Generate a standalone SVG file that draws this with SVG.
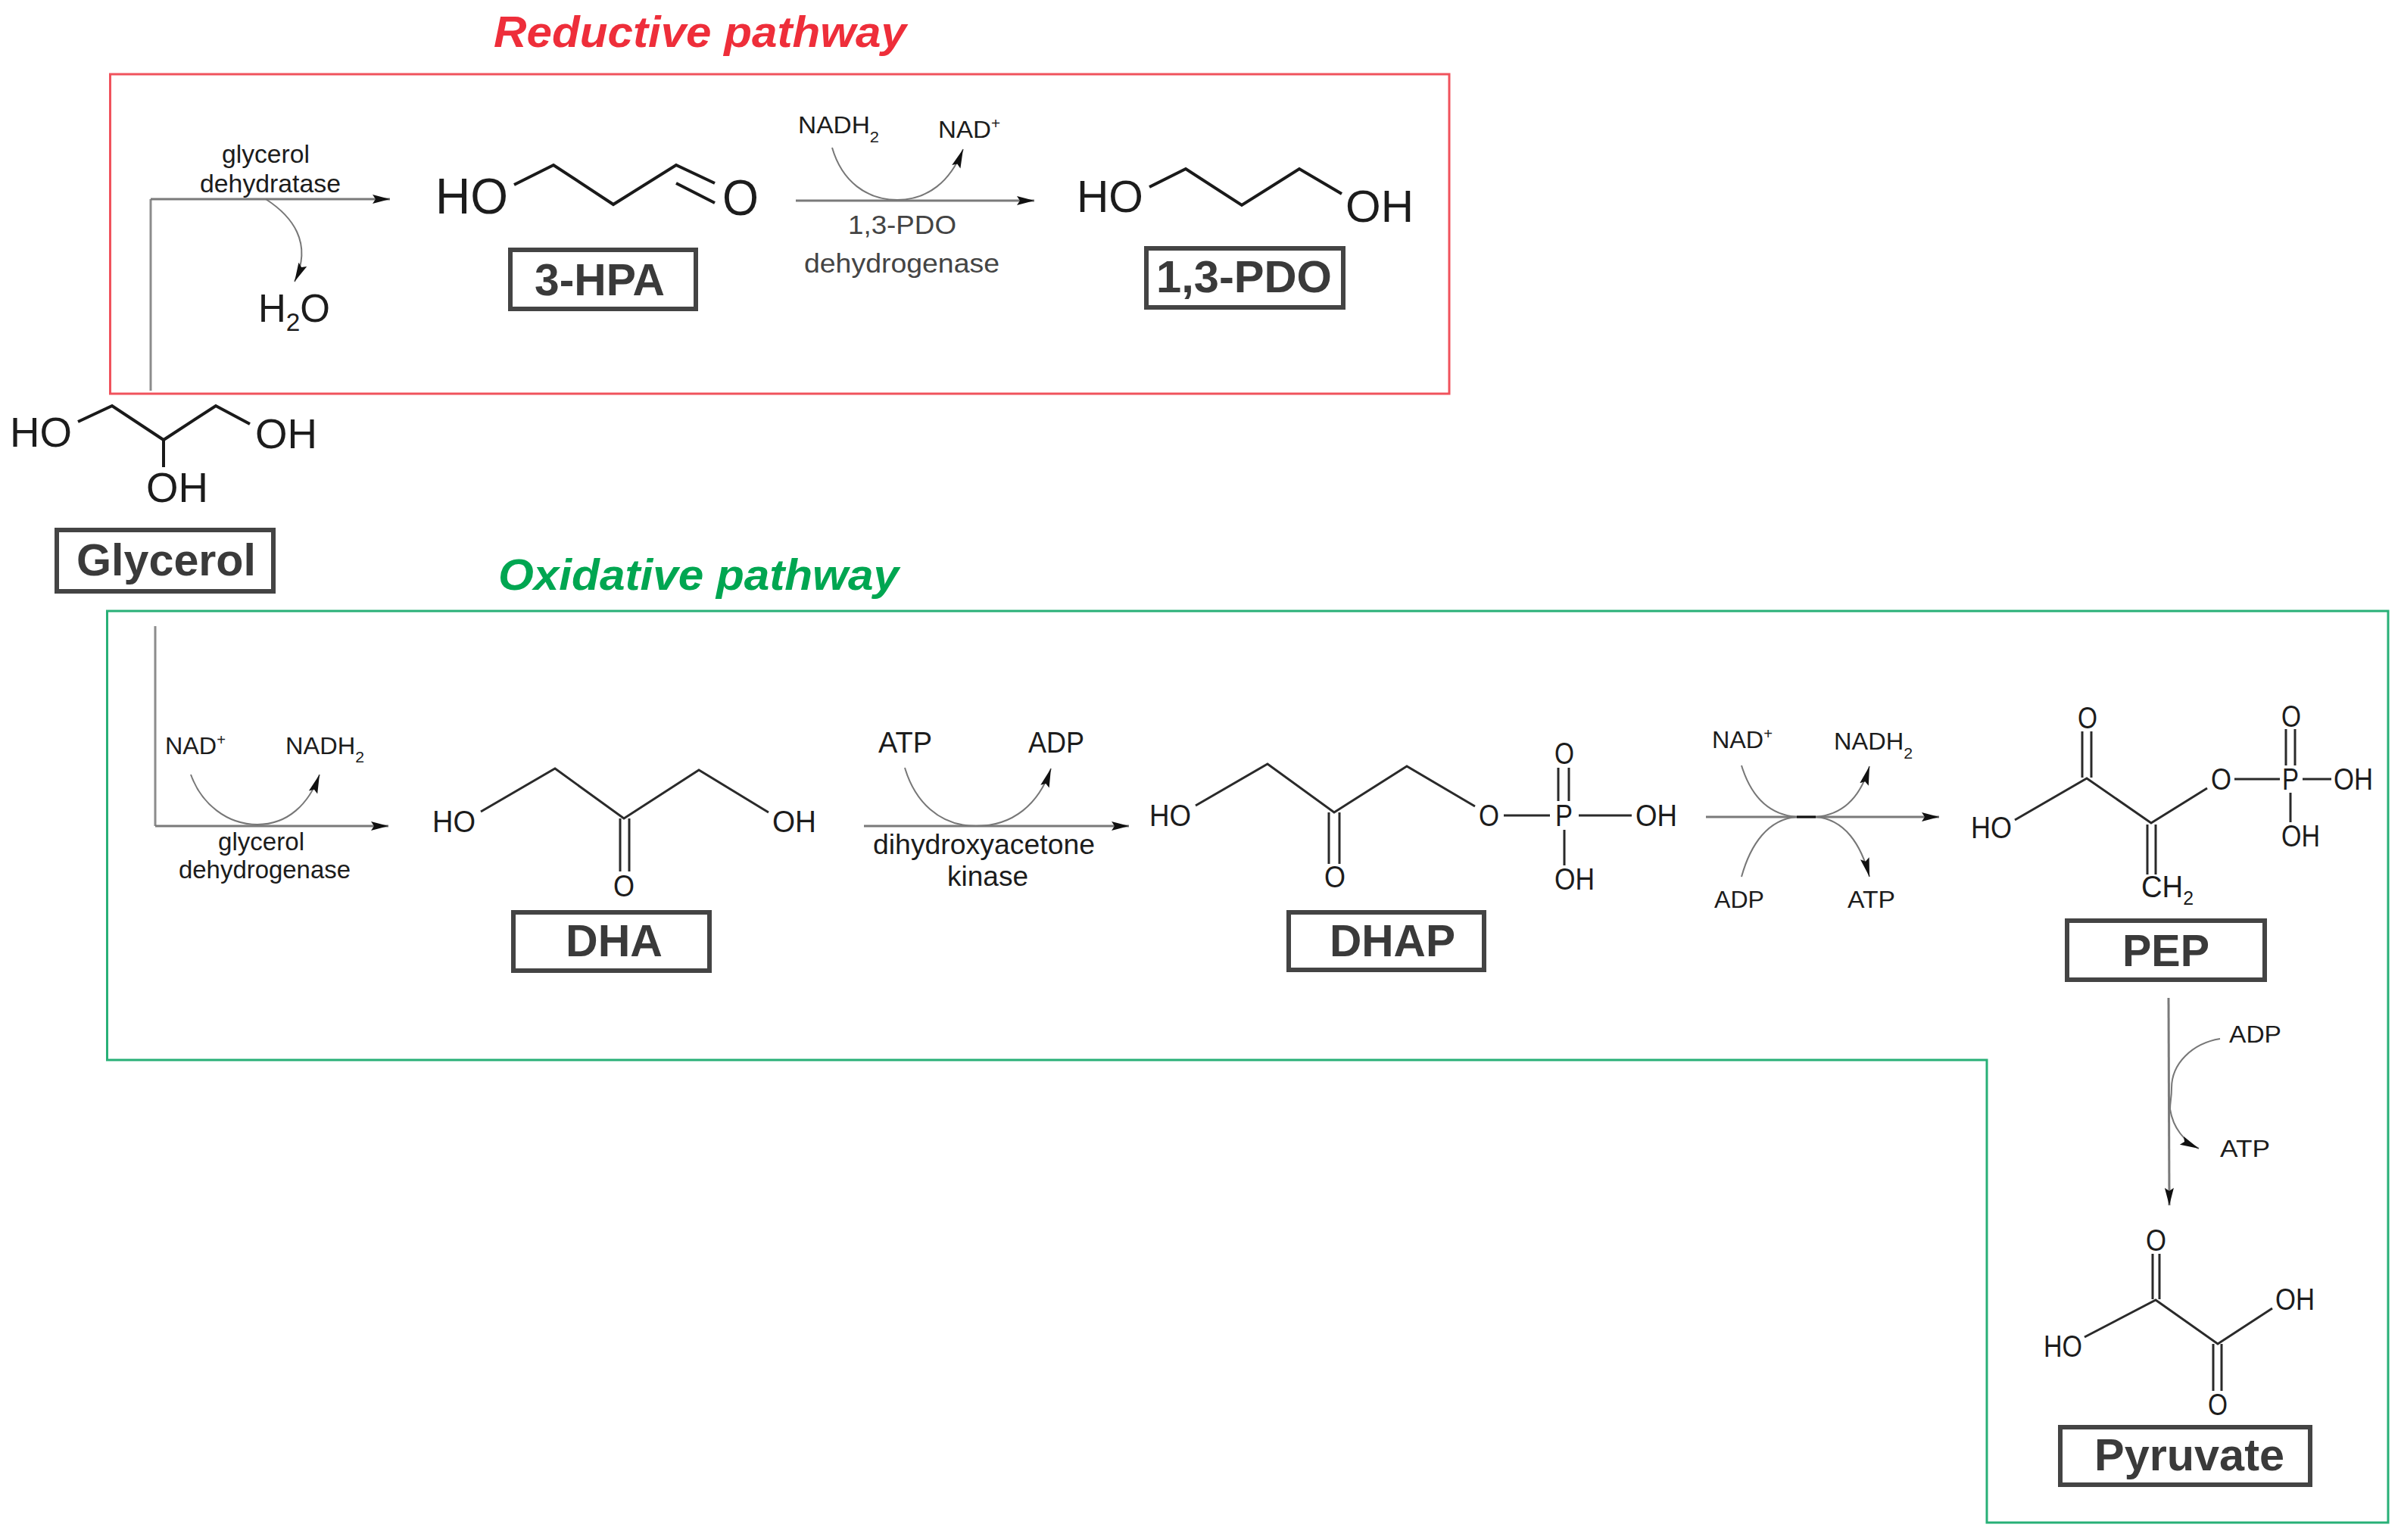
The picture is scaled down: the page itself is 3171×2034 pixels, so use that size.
<svg xmlns="http://www.w3.org/2000/svg" width="3171" height="2034" viewBox="0 0 3171 2034">
<style>
text{font-family:"Liberation Sans",Arial,sans-serif;fill:#1c1c1c}
.title{font-size:58px;font-weight:bold;font-style:italic}
.name{font-size:59px;font-weight:bold;fill:#3a3a3a}
.box{fill:none;stroke:#444;stroke-width:6}
.bond{fill:none;stroke:#2a2a2a;stroke-width:3}
.bondw{fill:none;stroke:#1a1a1a;stroke-width:4}
.arrow{fill:none;stroke:#7a7a7a;stroke-width:3;marker-end:url(#ah)}
.line{fill:none;stroke:#8c8c8c;stroke-width:3}
.curve{fill:none;stroke:#777;stroke-width:2}
.curvea{fill:none;stroke:#777;stroke-width:2;marker-end:url(#ah2)}
.a54{font-size:56px}.a58{font-size:60px}.a63{font-size:66px}.a38{font-size:40px}.a33{font-size:33px}.a36{font-size:38px}.a31{font-size:32px}.a35{font-size:35px;fill:#444}.a50{font-size:52px}.a34{font-size:36px}
</style>
<defs>
<marker id="ah" markerUnits="userSpaceOnUse" markerWidth="26" markerHeight="16" refX="23" refY="8" orient="auto"><path d="M0,2 L23,8 L0,14 L4,8 Z" fill="#111"/></marker>
<marker id="ah2" markerUnits="userSpaceOnUse" markerWidth="28" markerHeight="16" refX="25" refY="8" orient="auto"><path d="M0,2 L25,8 L0,14 L4,8 Z" fill="#111"/></marker>
</defs>

<g id="reductive-pathway">
<rect x="145.500" y="98" width="1768.500" height="422" fill="none" stroke="#f0525c" stroke-width="3"/>
<text class="title" x="652" y="62" style="fill:#ee2e3a" textLength="545" lengthAdjust="spacingAndGlyphs">Reductive pathway</text>
</g>
<g id="oxidative-pathway">
<path d="M141.500,807 H3154 V2011 H2624 V1400 H141.500 Z" fill="none" stroke="#28b077" stroke-width="3"/>
<text class="title" x="658" y="779" style="fill:#00a651" textLength="529" lengthAdjust="spacingAndGlyphs">Oxidative pathway</text>
</g>

<g id="connectors">
<path class="line" d="M199,516 V263"/>
<path class="arrow" d="M199,263 H515"/>
<path class="curvea" d="M351,263 C385,285 414,320 389,372"/>
<path class="arrow" d="M1051,265 H1366"/>
<path class="curve" d="M1099,195 C1112,240 1145,264 1185,264"/>
<path class="curvea" d="M1185,264 C1225,264 1255,240 1272,197"/>
<path class="line" d="M205,827 V1091"/>
<path class="arrow" d="M205,1091 H513"/>
<path class="curve" d="M252,1023 C266,1062 300,1089 340,1089"/>
<path class="curvea" d="M340,1089 C380,1089 408,1062 422,1023"/>
<path class="arrow" d="M1141,1091 H1491"/>
<path class="curve" d="M1195,1014 C1208,1058 1240,1091 1289,1091"/>
<path class="curvea" d="M1289,1091 C1338,1091 1372,1062 1388,1015"/>
<path class="arrow" d="M2253,1079 H2561"/>
<path class="curve" d="M2300,1011 C2312,1050 2335,1076 2373,1079"/>
<path class="curvea" d="M2398,1079 C2436,1076 2458,1050 2469,1012"/>
<path class="curve" d="M2300,1158 C2312,1115 2335,1082 2373,1079"/>
<path class="curvea" d="M2398,1079 C2436,1082 2458,1115 2469,1158"/>
<path d="M2373,1079 H2398" fill="none" stroke="#111" stroke-width="3"/>
<path class="arrow" d="M2864,1318 L2865,1592"/>
<path class="curve" d="M2932,1372 C2895,1378 2868,1405 2868,1437 C2868,1450 2866,1455 2866,1465"/>
<path class="curvea" d="M2866,1465 C2870,1490 2885,1508 2904,1517"/>
</g>

<g id="enzyme-labels">
<text class="a33" x="293" y="215" textLength="116" lengthAdjust="spacingAndGlyphs">glycerol</text>
<text class="a33" x="264" y="254" textLength="186" lengthAdjust="spacingAndGlyphs">dehydratase</text>
<text class="a50" x="341" y="425" textLength="95" lengthAdjust="spacingAndGlyphs">H<tspan font-size="34" dy="12">2</tspan><tspan dy="-12">O</tspan></text>
<text class="a31" x="1054" y="176" textLength="107" lengthAdjust="spacingAndGlyphs">NADH<tspan font-size="21" dy="12">2</tspan></text>
<text class="a31" x="1239" y="182" textLength="82" lengthAdjust="spacingAndGlyphs">NAD<tspan font-size="20" dy="-12">+</tspan></text>
<text class="a35" x="1120" y="309" textLength="143" lengthAdjust="spacingAndGlyphs">1,3-PDO</text>
<text class="a35" x="1062" y="360" textLength="258" lengthAdjust="spacingAndGlyphs">dehydrogenase</text>
<text class="a31" x="218" y="996" textLength="80" lengthAdjust="spacingAndGlyphs">NAD<tspan font-size="20" dy="-12">+</tspan></text>
<text class="a31" x="377" y="996" textLength="104" lengthAdjust="spacingAndGlyphs">NADH<tspan font-size="21" dy="11">2</tspan></text>
<text class="a33" x="288" y="1123" textLength="114" lengthAdjust="spacingAndGlyphs">glycerol</text>
<text class="a33" x="236" y="1160" textLength="227" lengthAdjust="spacingAndGlyphs">dehydrogenase</text>
<text class="a36" x="1160" y="994" textLength="71" lengthAdjust="spacingAndGlyphs">ATP</text>
<text class="a36" x="1358" y="994" textLength="74" lengthAdjust="spacingAndGlyphs">ADP</text>
<text class="a34" x="1153" y="1128" textLength="293" lengthAdjust="spacingAndGlyphs">dihydroxyacetone</text>
<text class="a34" x="1251" y="1170" textLength="107" lengthAdjust="spacingAndGlyphs">kinase</text>
<text class="a31" x="2261" y="988" textLength="80" lengthAdjust="spacingAndGlyphs">NAD<tspan font-size="20" dy="-12">+</tspan></text>
<text class="a31" x="2422" y="990" textLength="104" lengthAdjust="spacingAndGlyphs">NADH<tspan font-size="21" dy="12">2</tspan></text>
<text class="a31" x="2264" y="1199" textLength="66" lengthAdjust="spacingAndGlyphs">ADP</text>
<text class="a31" x="2440" y="1199" textLength="63" lengthAdjust="spacingAndGlyphs">ATP</text>
<text class="a31" x="2944" y="1377" textLength="69" lengthAdjust="spacingAndGlyphs">ADP</text>
<text class="a31" x="2932" y="1528" textLength="66" lengthAdjust="spacingAndGlyphs">ATP</text>
</g>

<g id="glycerol">
<path class="bondw" d="M103,557 L148,536 L216,581 L285,536 L330,560 M216,581 V617"/>
<text class="a54" x="13" y="590" textLength="82" lengthAdjust="spacingAndGlyphs">HO</text>
<text class="a54" x="337" y="592" textLength="82" lengthAdjust="spacingAndGlyphs">OH</text>
<text class="a54" x="193" y="663" textLength="82" lengthAdjust="spacingAndGlyphs">OH</text>
<rect class="box" x="75" y="700" width="286" height="81"/>
<text class="name" x="101" y="760" textLength="237" lengthAdjust="spacingAndGlyphs">Glycerol</text>
</g>

<g id="hpa">
<path class="bondw" d="M679,244 L731,218 L810,270 L893,218 L944,242 M893,242 L944,268"/>
<text class="a63" x="575" y="282" textLength="96" lengthAdjust="spacingAndGlyphs">HO</text>
<text class="a63" x="954" y="284" textLength="48" lengthAdjust="spacingAndGlyphs">O</text>
<rect class="box" x="674" y="330" width="245" height="78"/>
<text class="name" x="706" y="390" textLength="172" lengthAdjust="spacingAndGlyphs">3-HPA</text>
</g>

<g id="pdo">
<path class="bondw" d="M1518,247 L1566,223 L1640,271 L1716,223 L1772,256"/>
<text class="a58" x="1422" y="280" textLength="88" lengthAdjust="spacingAndGlyphs">HO</text>
<text class="a58" x="1777" y="293" textLength="90" lengthAdjust="spacingAndGlyphs">OH</text>
<rect class="box" x="1514" y="328" width="260" height="78"/>
<text class="name" x="1527" y="386" textLength="232" lengthAdjust="spacingAndGlyphs">1,3-PDO</text>
</g>

<g id="dha">
<path class="bond" d="M635,1072 L733,1015 L824,1081 L923,1017 L1015,1073 M819,1081 V1151 M831,1081 V1151"/>
<text class="a38" x="571" y="1099" textLength="57" lengthAdjust="spacingAndGlyphs">HO</text>
<text class="a38" x="1020" y="1099" textLength="58" lengthAdjust="spacingAndGlyphs">OH</text>
<text class="a38" x="810" y="1184" textLength="28" lengthAdjust="spacingAndGlyphs">O</text>
<rect class="box" x="678" y="1205" width="259" height="77"/>
<text class="name" x="747" y="1263" textLength="128" lengthAdjust="spacingAndGlyphs">DHA</text>
</g>

<g id="dhap">
<path class="bond" d="M1579,1064 L1674,1009 L1762,1073 L1858,1012 L1948,1065 M1755,1073 V1141 M1769,1073 V1141 M1986,1077 H2047 M2085,1077 H2155 M2058,1014 V1058 M2072,1014 V1058 M2066,1096 V1143"/>
<text class="a38" x="1518" y="1091" textLength="55" lengthAdjust="spacingAndGlyphs">HO</text>
<text class="a38" x="1749" y="1172" textLength="28" lengthAdjust="spacingAndGlyphs">O</text>
<text class="a38" x="1953" y="1091" textLength="27" lengthAdjust="spacingAndGlyphs">O</text>
<text class="a38" x="2054" y="1091" textLength="23" lengthAdjust="spacingAndGlyphs">P</text>
<text class="a38" x="2160" y="1091" textLength="55" lengthAdjust="spacingAndGlyphs">OH</text>
<text class="a38" x="2053" y="1009" textLength="26" lengthAdjust="spacingAndGlyphs">O</text>
<text class="a38" x="2053" y="1175" textLength="53" lengthAdjust="spacingAndGlyphs">OH</text>
<rect class="box" x="1702" y="1205" width="258" height="76"/>
<text class="name" x="1756" y="1263" textLength="166" lengthAdjust="spacingAndGlyphs">DHAP</text>
</g>

<g id="pep">
<path class="bond" d="M2661,1083 L2756,1028 L2841,1087 L2915,1041 M2750,966 V1027 M2762,966 V1027 M2836,1089 V1155 M2847,1089 V1155 M2951,1029 H3011 M3041,1029 H3079 M3019,963 V1011 M3031,963 V1011 M3025,1047 V1086"/>
<text class="a38" x="2603" y="1107" textLength="54" lengthAdjust="spacingAndGlyphs">HO</text>
<text class="a38" x="2744" y="962" textLength="26" lengthAdjust="spacingAndGlyphs">O</text>
<text class="a38" x="2920" y="1043" textLength="27" lengthAdjust="spacingAndGlyphs">O</text>
<text class="a38" x="3014" y="1043" textLength="22" lengthAdjust="spacingAndGlyphs">P</text>
<text class="a38" x="3082" y="1043" textLength="52" lengthAdjust="spacingAndGlyphs">OH</text>
<text class="a38" x="3013" y="960" textLength="26" lengthAdjust="spacingAndGlyphs">O</text>
<text class="a38" x="3013" y="1118" textLength="51" lengthAdjust="spacingAndGlyphs">OH</text>
<text class="a38" x="2828" y="1185" textLength="69" lengthAdjust="spacingAndGlyphs">CH<tspan font-size="26" dy="10">2</tspan></text>
<rect class="box" x="2730" y="1216" width="261" height="78"/>
<text class="name" x="2803" y="1276" textLength="115" lengthAdjust="spacingAndGlyphs">PEP</text>
</g>

<g id="pyruvate">
<path class="bond" d="M2753,1766 L2847,1717 L2929,1775 L3001,1728 M2843,1656 V1716 M2852,1656 V1716 M2923,1775 V1837 M2934,1775 V1837"/>
<text class="a38" x="2699" y="1792" textLength="51" lengthAdjust="spacingAndGlyphs">HO</text>
<text class="a38" x="3005" y="1730" textLength="52" lengthAdjust="spacingAndGlyphs">OH</text>
<text class="a38" x="2834" y="1652" textLength="27" lengthAdjust="spacingAndGlyphs">O</text>
<text class="a38" x="2916" y="1869" textLength="26" lengthAdjust="spacingAndGlyphs">O</text>
<rect class="box" x="2721" y="1885" width="330" height="76"/>
<text class="name" x="2766" y="1942" textLength="251" lengthAdjust="spacingAndGlyphs">Pyruvate</text>
</g>
</svg>
